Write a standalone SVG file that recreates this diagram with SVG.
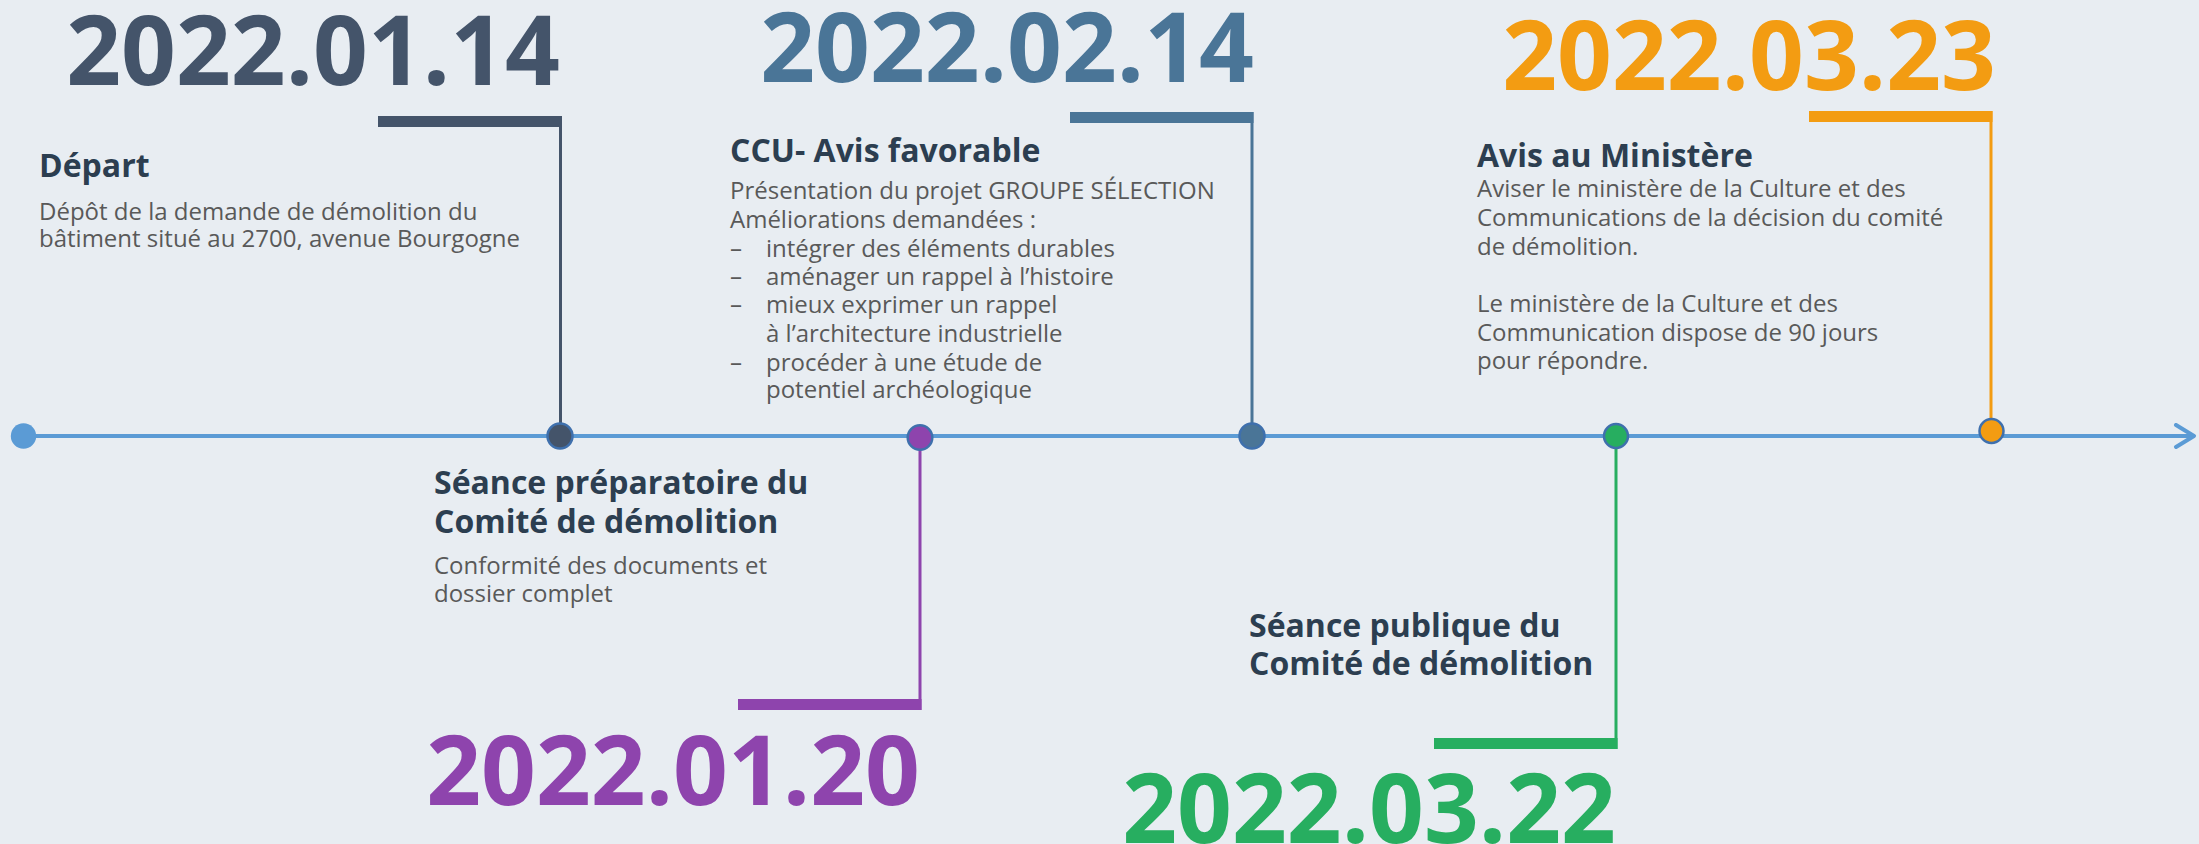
<svg xmlns="http://www.w3.org/2000/svg" width="2199" height="844" viewBox="0 0 2199 844">
  <defs>
    <style>
      .date { font-family: "Open Sans", "Noto Sans", sans-serif; font-weight: 700; font-size: 96px; text-anchor: end; }
      .head { font-family: "Open Sans", "Noto Sans", sans-serif; font-weight: 700; font-size: 32px; fill: #2c3e50; }
      .body { font-family: "Open Sans", "Noto Sans", sans-serif; font-weight: 400; font-size: 24px; fill: #595959; }
      .axis { stroke: #5b9bd5; stroke-width: 4; fill: none; }
      .dot { stroke: #3f70ad; stroke-width: 2.5; }
      .stem { stroke-width: 3; fill: none; }
    </style>
    <marker id="arrowhead" viewBox="0 0 24 26" refX="21" refY="13" markerWidth="24" markerHeight="26" markerUnits="userSpaceOnUse" orient="auto">
      <path d="M3 2 L21 13 L3 24" fill="none" stroke="#5b9bd5" stroke-width="4" stroke-linecap="round" stroke-linejoin="round"/>
    </marker>
  </defs>

  <rect x="0" y="0" width="2199" height="844" fill="#e8edf2"/>

  <!-- timeline axis and date stems -->
  <g id="connectors">
    <line class="axis" x1="24" y1="436" x2="2194" y2="436" marker-end="url(#arrowhead)"/>

    <path class="stem" stroke="#44546a" d="M560.5 436 V116"/>
    <rect x="378" y="116" width="184" height="11" fill="#44546a"/>

    <path class="stem" stroke="#8e44ad" d="M920 437 V710"/>
    <rect x="738" y="699" width="183.5" height="11" fill="#8e44ad"/>

    <path class="stem" stroke="#4a7597" d="M1252 436 V112"/>
    <rect x="1070" y="112" width="183.5" height="11" fill="#4a7597"/>

    <path class="stem" stroke="#27ae60" d="M1616 436 V749"/>
    <rect x="1434" y="738" width="183.5" height="11" fill="#27ae60"/>

    <path class="stem" stroke="#f39c12" d="M1991 431 V111"/>
    <rect x="1809" y="111" width="183.5" height="11" fill="#f39c12"/>
  </g>

  <!-- start of the timeline -->
  <g id="start">
    <circle cx="23.5" cy="436" r="12.7" fill="#5b9bd5"/>
  </g>

  <!-- 2022.01.14 : Départ -->
  <g id="depart">
    <text class="date" x="560" y="85" fill="#44546a">2022.01.14</text>
    <circle class="dot" cx="560" cy="436" r="12.5" fill="#44546a"/>
    <text class="head" x="39" y="177">Départ</text>
    <text class="body" x="39" y="220">Dépôt de la demande de démolition du</text>
    <text class="body" x="39" y="247">bâtiment situé au 2700, avenue Bourgogne</text>
  </g>

  <!-- 2022.01.20 : Séance préparatoire -->
  <g id="seance-preparatoire">
    <text class="date" x="920" y="805" fill="#8e44ad">2022.01.20</text>
    <circle class="dot" cx="920" cy="437.5" r="12.3" fill="#8e44ad"/>
    <text class="head" x="434" y="494">Séance préparatoire du</text>
    <text class="head" x="434" y="533">Comité de démolition</text>
    <text class="body" x="434" y="574">Conformité des documents et</text>
    <text class="body" x="434" y="602">dossier complet</text>
  </g>

  <!-- 2022.02.14 : CCU -->
  <g id="ccu">
    <text class="date" x="1254" y="82" fill="#4a7597">2022.02.14</text>
    <circle class="dot" cx="1252" cy="436" r="12.5" fill="#4a7597" stroke="#44709a"/>
    <text class="head" x="730" y="162">CCU- Avis favorable</text>
    <text class="body" x="730" y="199">Présentation du projet GROUPE SÉLECTION</text>
    <text class="body" x="730" y="228">Améliorations demandées :</text>
    <text class="body" x="730" y="257">–</text>
    <text class="body" x="766" y="257">intégrer des éléments durables</text>
    <text class="body" x="730" y="285">–</text>
    <text class="body" x="766" y="285">aménager un rappel à l’histoire</text>
    <text class="body" x="730" y="313">–</text>
    <text class="body" x="766" y="313">mieux exprimer un rappel</text>
    <text class="body" x="766" y="342">à l’architecture industrielle</text>
    <text class="body" x="730" y="371">–</text>
    <text class="body" x="766" y="371">procéder à une étude de</text>
    <text class="body" x="766" y="398">potentiel archéologique</text>
  </g>

  <!-- 2022.03.22 : Séance publique -->
  <g id="seance-publique">
    <text class="date" x="1616" y="843" fill="#27ae60">2022.03.22</text>
    <circle class="dot" cx="1616" cy="436" r="12" fill="#27ae60"/>
    <text class="head" x="1249" y="637">Séance publique du</text>
    <text class="head" x="1249" y="675">Comité de démolition</text>
  </g>

  <!-- 2022.03.23 : Avis au Ministère -->
  <g id="avis-ministere">
    <text class="date" x="1996" y="90" fill="#f39c12">2022.03.23</text>
    <circle class="dot" cx="1991.5" cy="431" r="12" fill="#f39c12"/>
    <text class="head" x="1477" y="167">Avis au Ministère</text>
    <text class="body" x="1477" y="197">Aviser le ministère de la Culture et des</text>
    <text class="body" x="1477" y="226">Communications de la décision du comité</text>
    <text class="body" x="1477" y="255">de démolition.</text>
    <text class="body" x="1477" y="312">Le ministère de la Culture et des</text>
    <text class="body" x="1477" y="341">Communication dispose de 90 jours</text>
    <text class="body" x="1477" y="369">pour répondre.</text>
  </g>
</svg>
